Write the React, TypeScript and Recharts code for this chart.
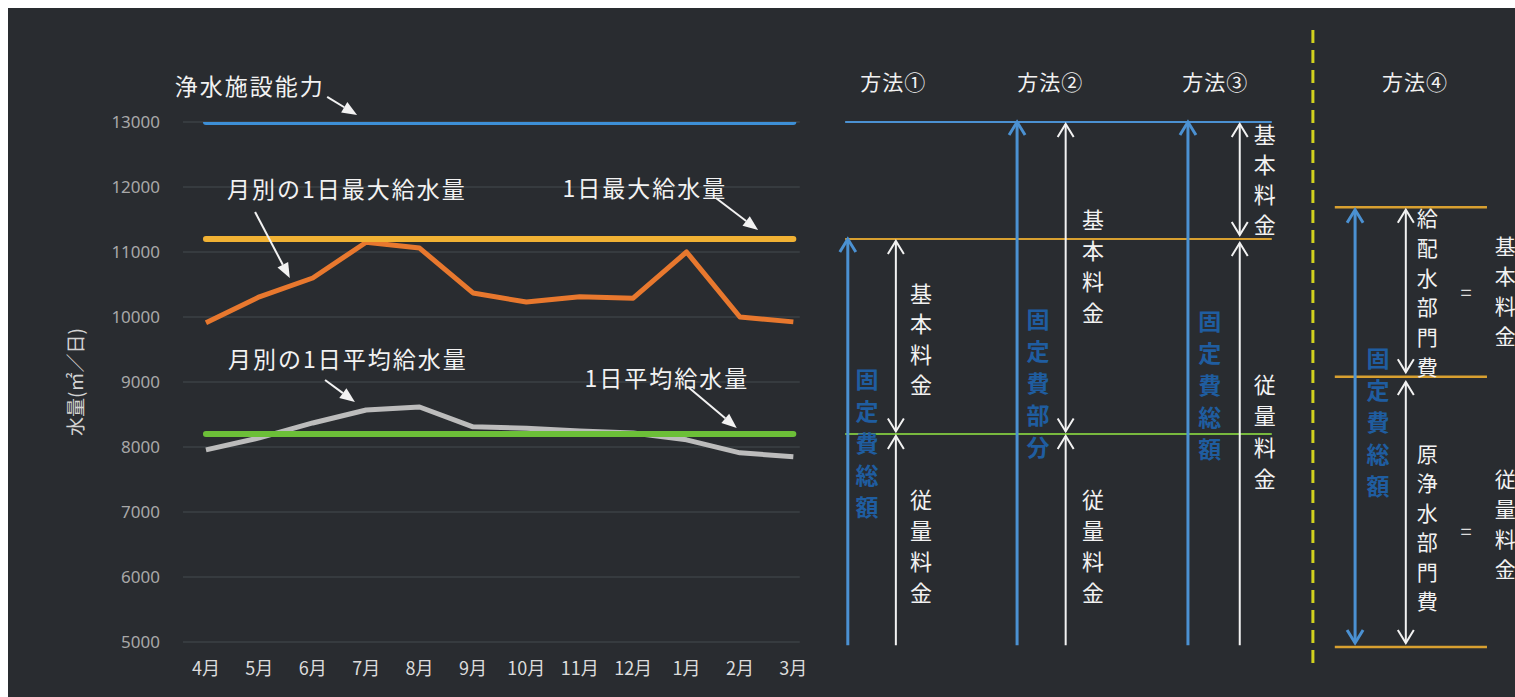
import React from "react";
import {
  ComposedChart,
  Line,
  XAxis,
  YAxis,
  ReferenceLine,
  ReferenceDot,
} from "recharts";

// monthly water supply (m3/day)
const months = ["4月", "5月", "6月", "7月", "8月", "9月", "10月", "11月", "12月", "1月", "2月", "3月"];
const monthlyMax = [9910, 10310, 10600, 11150, 11060, 10370, 10230, 10310, 10290, 11000, 10000, 9925];
const monthlyAvg = [7955, 8140, 8370, 8570, 8615, 8310, 8290, 8245, 8215, 8110, 7910, 7850];
const plantCapacity = 13000;
const dailyMax = 11200;
const dailyAvg = 8200;
const yTicks = [5000, 6000, 7000, 8000, 9000, 10000, 11000, 12000, 13000];

// diagram on the right, in axis units (x = month index, y = m3/day)
const diagramBottom = 4950;
const method4Levels = [11690, 9080, 4925];
const methodTitles = [
  { label: "方法①", x: 12.87 },
  { label: "方法②", x: 15.81 },
  { label: "方法③", x: 18.9 },
  { label: "方法④", x: 22.64 },
];

const BG = "#292c30";
const WHITE = "#f2f2f2";
const BLUE = "#4b91d2";
const DARK_BLUE = "#1f5da0";
const ORANGE_THIN = "#d8a030";
const JP = "'Noto Sans CJK JP', 'Noto Sans', sans-serif";

const rows = months.map((m, i) => ({
  x: i,
  month: m,
  max: monthlyMax[i],
  avg: monthlyAvg[i],
  capacity: plantCapacity,
  dailyMax,
  dailyAvg,
}));

type Pt = [number, number];
type Arrow = { from: Pt; to: Pt; color: string; width: number; heads: "end" | "both" };

const diagramArrows: Arrow[] = [
  // method 1
  { from: [12.02, diagramBottom], to: [12.02, dailyMax], color: BLUE, width: 3, heads: "end" },
  { from: [12.92, dailyMax - 30], to: [12.92, dailyAvg + 40], color: WHITE, width: 2, heads: "both" },
  { from: [12.92, diagramBottom], to: [12.92, dailyAvg - 30], color: WHITE, width: 2, heads: "end" },
  // method 2
  { from: [15.19, diagramBottom], to: [15.19, plantCapacity], color: BLUE, width: 3, heads: "end" },
  { from: [16.1, plantCapacity - 30], to: [16.1, dailyAvg + 40], color: WHITE, width: 2, heads: "both" },
  { from: [16.1, diagramBottom], to: [16.1, dailyAvg - 30], color: WHITE, width: 2, heads: "end" },
  // method 3
  { from: [18.39, diagramBottom], to: [18.39, plantCapacity], color: BLUE, width: 3, heads: "end" },
  { from: [19.36, plantCapacity - 30], to: [19.36, dailyMax + 60], color: WHITE, width: 2, heads: "both" },
  { from: [19.36, diagramBottom], to: [19.36, dailyMax - 60], color: WHITE, width: 2, heads: "end" },
  // method 4
  { from: [21.52, method4Levels[2] + 60], to: [21.52, method4Levels[0] - 40], color: BLUE, width: 3, heads: "both" },
  { from: [22.47, method4Levels[0] - 40], to: [22.47, method4Levels[1] + 70], color: WHITE, width: 2, heads: "both" },
  { from: [22.47, method4Levels[1] - 80], to: [22.47, method4Levels[2] + 60], color: WHITE, width: 2, heads: "both" },
];

type VText = { text: string; x: number; y: number; step: number; size: number; blue?: boolean };
const verticalTexts: VText[] = [
  { text: "基本料金", x: 13.39, y: 10385, step: 30.5, size: 22 },
  { text: "従量料金", x: 13.39, y: 7215, step: 31, size: 22 },
  { text: "基本料金", x: 16.61, y: 11523, step: 31, size: 22 },
  { text: "従量料金", x: 16.61, y: 7215, step: 31, size: 22 },
  { text: "基本料金", x: 19.83, y: 12831, step: 30, size: 22 },
  { text: "従量料金", x: 19.83, y: 8985, step: 31.5, size: 22 },
  { text: "給配水部門費", x: 22.87, y: 11540, step: 29.8, size: 21 },
  { text: "原浄水部門費", x: 22.87, y: 7908, step: 29.5, size: 21 },
  { text: "基本料金", x: 24.33, y: 11110, step: 30, size: 21 },
  { text: "従量料金", x: 24.33, y: 7523, step: 30, size: 21 },
  { text: "固定費総額", x: 12.38, y: 9062, step: 32, size: 23, blue: true },
  { text: "固定費部分", x: 15.58, y: 9985, step: 32, size: 23, blue: true },
  { text: "固定費総額", x: 18.8, y: 9954, step: 32, size: 23, blue: true },
  { text: "固定費総額", x: 21.95, y: 9385, step: 32, size: 23, blue: true },
];

const equalsSigns = [
  { x: 23.6, y: 10400 },
  { x: 23.6, y: 6710 },
];

// labels and pointers on the left chart
const chartNotes = [
  { text: "浄水施設能力", x: 0.82, y: 13570 },
  { text: "月別の1日最大給水量", x: 2.64, y: 11985 },
  { text: "1日最大給水量", x: 8.22, y: 12000 },
  { text: "月別の1日平均給水量", x: 2.66, y: 9370 },
  { text: "1日平均給水量", x: 8.63, y: 9077 },
];
const chartPointers: { from: Pt; to: Pt }[] = [
  { from: [2.27, 13385], to: [2.83, 13108] },
  { from: [0.92, 11615], to: [1.57, 10600] },
  { from: [9.55, 11830], to: [10.34, 11338] },
  { from: [2.23, 9031], to: [2.79, 8692] },
  { from: [9.03, 8923], to: [9.94, 8292] },
];

const chevron = (tx: number, ty: number, ux: number, uy: number) => {
  const L = 13;
  const W = 8;
  const bx = tx - ux * L;
  const by = ty - uy * L;
  return `M${bx - uy * W},${by + ux * W} L${tx},${ty} L${bx + uy * W},${by - ux * W}`;
};

const arrowShape = (color: string, width: number, heads: "end" | "both") => (p: any) => {
  const { x1, y1, x2, y2 } = p;
  const len = Math.hypot(x2 - x1, y2 - y1) || 1;
  const ux = (x2 - x1) / len;
  const uy = (y2 - y1) / len;
  return (
    <g>
      <line x1={x1} y1={y1} x2={x2} y2={y2} stroke={color} strokeWidth={width} />
      <path d={chevron(x2, y2, ux, uy)} fill="none" stroke={color} strokeWidth={width} />
      {heads === "both" && (
        <path d={chevron(x1, y1, -ux, -uy)} fill="none" stroke={color} strokeWidth={width} />
      )}
    </g>
  );
};

const pointerShape = (p: any) => {
  const { x1, y1, x2, y2 } = p;
  const len = Math.hypot(x2 - x1, y2 - y1) || 1;
  const ux = (x2 - x1) / len;
  const uy = (y2 - y1) / len;
  const L = 15;
  const W = 6;
  const bx = x2 - ux * L;
  const by = y2 - uy * L;
  return (
    <g>
      <line x1={x1} y1={y1} x2={bx} y2={by} stroke={WHITE} strokeWidth={2} />
      <path
        d={`M${bx - uy * W},${by + ux * W} L${x2},${y2} L${bx + uy * W},${by - ux * W} Z`}
        fill={WHITE}
      />
    </g>
  );
};

const textShape = (text: string, size: number, color: string, spacing = 0) => (p: any) => (
  <text
    x={p.cx}
    y={p.cy}
    fill={color}
    fontSize={size}
    fontFamily={JP}
    textAnchor="middle"
    dominantBaseline="central"
    letterSpacing={spacing}
  >
    {text}
  </text>
);

const verticalShape = (v: VText) => (p: any) => (
  <g>
    {v.text.split("").map((c, i) => (
      <text
        key={i}
        x={p.cx}
        y={p.cy + i * v.step}
        fill={v.blue ? DARK_BLUE : WHITE}
        fontSize={v.size}
        fontWeight={v.blue ? 700 : 400}
        fontFamily={JP}
        textAnchor="middle"
        dominantBaseline="central"
      >
        {c}
      </text>
    ))}
  </g>
);

const hLine = (key: string, y: number, x1: number, x2: number, color: string, width: number, dash?: string) => (
  <ReferenceLine
    key={key}
    segment={[{ x: x1, y }, { x: x2, y }]}
    stroke={color}
    strokeWidth={width}
    strokeDasharray={dash}
    ifOverflow="visible"
  />
);

export default function App() {
  return (
    <div style={{ position: "absolute", left: 8, top: 8, width: 1507, height: 689, background: BG, overflow: "hidden" }}>
      <ComposedChart
        width={1507}
        height={689}
        data={rows}
        margin={{ top: 114, right: 12, bottom: 0, left: 50 }}
      >
        <XAxis
          type="number"
          dataKey="x"
          domain={[-0.43, 24.29]}
          ticks={months.map((_, i) => i)}
          interval={0}
          tickFormatter={(i: number) => months[i]}
          axisLine={false}
          tickLine={false}
          tickSize={6}
          tickMargin={14}
          height={55}
          tick={{ fill: "#dcdcdc", fontSize: 18, fontFamily: JP }}
        />
        <YAxis
          type="number"
          domain={[5000, 13000]}
          ticks={yTicks}
          interval={0}
          allowDataOverflow
          axisLine={false}
          tickLine={false}
          tickSize={6}
          tickMargin={17}
          width={125}
          tick={{ fill: "#a8a8a8", fontSize: 17, fontFamily: "'Noto Sans', sans-serif" }}
          label={{
            value: "水量(㎡／日)",
            angle: -90,
            position: "insideLeft",
            offset: 18,
            fill: "#d4d4d4",
            fontSize: 19,
            fontFamily: JP,
            style: { textAnchor: "middle", fill: "#d4d4d4", fontSize: 19, fontFamily: JP },
          }}
        />

        {/* faint grid of the left chart */}
        {yTicks.map((t) => hLine(`g${t}`, t, -0.43, 11.12, "#3b4045", 1.5))}

        <Line dataKey="capacity" stroke="#3d8fd6" strokeWidth={6} strokeLinecap="round" dot={false} isAnimationActive={false} />
        <Line dataKey="max" stroke="#e8782e" strokeWidth={5} strokeLinejoin="round" dot={false} isAnimationActive={false} />
        <Line dataKey="dailyMax" stroke="#f1b234" strokeWidth={6} strokeLinecap="round" dot={false} isAnimationActive={false} />
        <Line dataKey="avg" stroke="#bcbcbc" strokeWidth={5} strokeLinejoin="round" dot={false} isAnimationActive={false} />
        <Line dataKey="dailyAvg" stroke="#6cbf38" strokeWidth={6} strokeLinecap="round" dot={false} isAnimationActive={false} />

        {chartNotes.map((n, i) => (
          <ReferenceDot key={`n${i}`} x={n.x} y={n.y} r={0} ifOverflow="visible" shape={textShape(n.text, 23, WHITE, 2)} />
        ))}
        {chartPointers.map((a, i) => (
          <ReferenceLine
            key={`p${i}`}
            segment={[{ x: a.from[0], y: a.from[1] }, { x: a.to[0], y: a.to[1] }]}
            ifOverflow="visible"
            shape={pointerShape}
          />
        ))}

        {/* methods 1-3 */}
        {hLine("d13000", plantCapacity, 11.97, 19.96, BLUE, 2)}
        {hLine("dmax", dailyMax, 11.97, 19.96, ORANGE_THIN, 2)}
        {hLine("davg", dailyAvg, 11.97, 19.96, "#78b93e", 2)}

        {/* separator and method 4 */}
        <ReferenceLine
          segment={[{ x: 20.73, y: 14415 }, { x: 20.73, y: 4600 }]}
          stroke="#d2d21e"
          strokeWidth={3}
          strokeDasharray="13 7"
          ifOverflow="visible"
        />
        {method4Levels.map((lv, i) => hLine(`m4${i}`, lv, 21.14, 23.99, ORANGE_THIN, 2.5))}

        {diagramArrows.map((a, i) => (
          <ReferenceLine
            key={`a${i}`}
            segment={[{ x: a.from[0], y: a.from[1] }, { x: a.to[0], y: a.to[1] }]}
            ifOverflow="visible"
            shape={arrowShape(a.color, a.width, a.heads)}
          />
        ))}

        {methodTitles.map((t) => (
          <ReferenceDot key={t.label} x={t.x} y={13638} r={0} ifOverflow="visible" shape={textShape(t.label, 21, WHITE, 1)} />
        ))}
        {verticalTexts.map((v, i) => (
          <ReferenceDot key={`v${i}`} x={v.x} y={v.y} r={0} ifOverflow="visible" shape={verticalShape(v)} />
        ))}
        {equalsSigns.map((e, i) => (
          <ReferenceDot key={`e${i}`} x={e.x} y={e.y} r={0} ifOverflow="visible" shape={textShape("=", 20, "#dddddd")} />
        ))}
      </ComposedChart>
    </div>
  );
}
